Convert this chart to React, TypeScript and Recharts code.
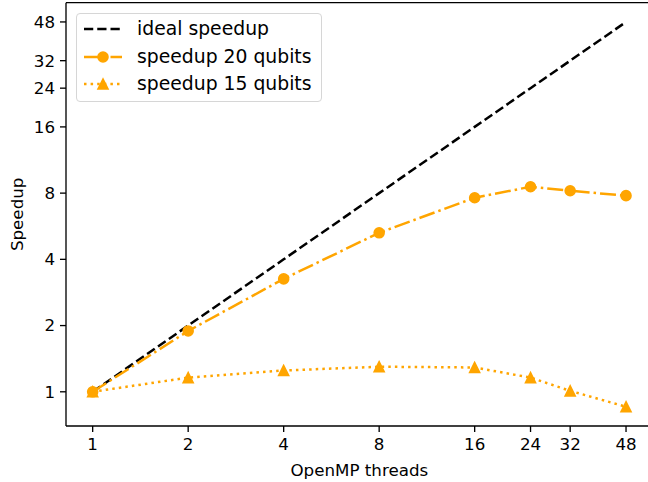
import React from "react";
import {
  LineChart,
  Line,
  XAxis,
  YAxis,
  Legend,
  Label,
  ReferenceLine,
} from "recharts";

const THREADS = [1, 2, 4, 8, 16, 24, 32, 48];
const IDEAL = [1, 2, 4, 8, 16, 24, 32, 48];
const SPEEDUP_20 = [1, 1.89, 3.26, 5.28, 7.62, 8.55, 8.2, 7.79];
const SPEEDUP_15 = [1, 1.16, 1.25, 1.3, 1.29, 1.16, 1.01, 0.855];
const TICKS = [1, 2, 4, 8, 16, 24, 32, 48];

const ORANGE = "#ffa500";
const FONT = "DejaVu Sans, sans-serif";

// matplotlib-style 5% margins in log space
function logPad(lo: number, hi: number): [number, number] {
  const a = Math.log(lo);
  const b = Math.log(hi);
  const m = (b - a) * 0.05;
  return [Math.exp(a - m), Math.exp(b + m)];
}

const rows = THREADS.map((t, i) => ({
  threads: t,
  ideal: IDEAL[i],
  q20: SPEEDUP_20[i],
  q15: SPEEDUP_15[i],
}));

const X_DOMAIN = logPad(Math.min(...THREADS), Math.max(...THREADS));
const Y_DOMAIN = logPad(
  Math.min(...IDEAL, ...SPEEDUP_20, ...SPEEDUP_15),
  Math.max(...IDEAL, ...SPEEDUP_20, ...SPEEDUP_15)
);

const CircleDot = (props: any) => {
  const { cx, cy, index } = props;
  if (cx == null || cy == null) return null;
  return (
    <circle key={`c-${index}`} cx={cx} cy={cy} r={5} fill={ORANGE} stroke={ORANGE} strokeWidth={1.6} />
  );
};

const TriangleDot = (props: any) => {
  const { cx, cy, index } = props;
  if (cx == null || cy == null) return null;
  const s = 5;
  return (
    <polygon
      key={`t-${index}`}
      points={`${cx},${cy - s} ${cx - s},${cy + s} ${cx + s},${cy + s}`}
      fill={ORANGE}
      stroke={ORANGE}
      strokeWidth={1.6}
      strokeLinejoin="miter"
    />
  );
};

const LEGEND_ITEMS = [
  { label: "ideal speedup", color: "#000", dash: "9.25 4", marker: null },
  { label: "speedup 20 qubits", color: ORANGE, dash: "16 4 2.5 4", marker: "circle" },
  { label: "speedup 15 qubits", color: ORANGE, dash: "2.5 4.1", marker: "triangle" },
];

function LegendBox() {
  return (
    <div
      style={{
        position: "relative",
        width: 246,
        height: 89,
        boxSizing: "border-box",
        border: "1px solid #d6d6d6",
        borderRadius: 4,
        background: "rgba(255,255,255,0.8)",
        fontFamily: FONT,
        fontSize: 18.8,
        color: "#000",
      }}
    >
      {LEGEND_ITEMS.map((it, i) => {
        const cy = [15, 43, 70][i];
        return (
          <div key={it.label} style={{ position: "absolute", left: 0, top: cy - 14, height: 28, width: "100%" }}>
            <svg width={42} height={28} style={{ position: "absolute", left: 5, top: 0 }}>
              <line x1={2} y1={14} x2={40} y2={14} stroke={it.color} strokeWidth={2.5} strokeDasharray={it.dash} />
              {it.marker === "circle" && <circle cx={21} cy={14} r={5} fill={ORANGE} stroke={ORANGE} strokeWidth={1.6} />}
              {it.marker === "triangle" && (
                <polygon points="21,9 16,19 26,19" fill={ORANGE} stroke={ORANGE} strokeWidth={1.6} />
              )}
            </svg>
            <span style={{ position: "absolute", left: 60, top: 0, lineHeight: "28px", whiteSpace: "nowrap" }}>
              {it.label}
            </span>
          </div>
        );
      })}
    </div>
  );
}

const tickStyle = { fill: "#000", fontSize: 16.7, fontFamily: FONT };
const spine = { stroke: "#000", strokeWidth: 1.33 };

export default function App() {
  return (
    <div
      style={{
        position: "absolute",
        left: 0,
        top: 0,
        width: 648,
        height: 482,
        overflow: "hidden",
        background: "#fff",
      }}
    >
      <LineChart width={660} height={482} data={rows} margin={{ top: 2.7, right: 7.3, bottom: 0, left: 0 }}>
        <XAxis
          dataKey="threads"
          type="number"
          scale="log"
          domain={X_DOMAIN}
          allowDataOverflow
          ticks={TICKS}
          interval={0}
          height={56}
          tick={tickStyle}
          tickSize={6}
          tickMargin={6}
          axisLine={spine}
          tickLine={spine}
        >
          <Label
            value="OpenMP threads"
            position="insideBottom"
            offset={6}
            style={{ fill: "#000", fontSize: 16.7, fontFamily: FONT }}
          />
        </XAxis>
        <YAxis
          type="number"
          scale="log"
          domain={Y_DOMAIN}
          allowDataOverflow
          ticks={TICKS}
          interval={0}
          width={66}
          tick={tickStyle}
          tickSize={6}
          tickMargin={5}
          axisLine={spine}
          tickLine={spine}
        >
          <Label
            content={(p: any) => {
              const vb = p.viewBox || { y: 0, height: 0 };
              const cx = 23;
              const cy = vb.y + vb.height / 2;
              return (
                <text
                  x={cx}
                  y={cy}
                  transform={`rotate(-90, ${cx}, ${cy})`}
                  textAnchor="middle"
                  fill="#000"
                  fontSize={16.7}
                  fontFamily={FONT}
                >
                  Speedup
                </text>
              );
            }}
          />
        </YAxis>
        <ReferenceLine y={Y_DOMAIN[1]} stroke="#000" strokeWidth={1.33} ifOverflow="extendDomain" />
        <Line
          dataKey="ideal"
          stroke="#000"
          strokeWidth={2.5}
          strokeDasharray="9.25 4"
          dot={false}
          activeDot={false}
          isAnimationActive={false}
        />
        <Line
          dataKey="q20"
          stroke={ORANGE}
          strokeWidth={2.5}
          strokeDasharray="16 4 2.5 4"
          dot={CircleDot}
          activeDot={false}
          isAnimationActive={false}
        />
        <Line
          dataKey="q15"
          stroke={ORANGE}
          strokeWidth={2.5}
          strokeDasharray="2.5 4.1"
          dot={TriangleDot}
          activeDot={false}
          isAnimationActive={false}
        />
        <Legend
          layout="vertical"
          verticalAlign="middle"
          align="center"
          wrapperStyle={{ left: 76, top: 13, width: 246, height: 89 }}
          content={() => <LegendBox />}
        />
      </LineChart>
    </div>
  );
}
